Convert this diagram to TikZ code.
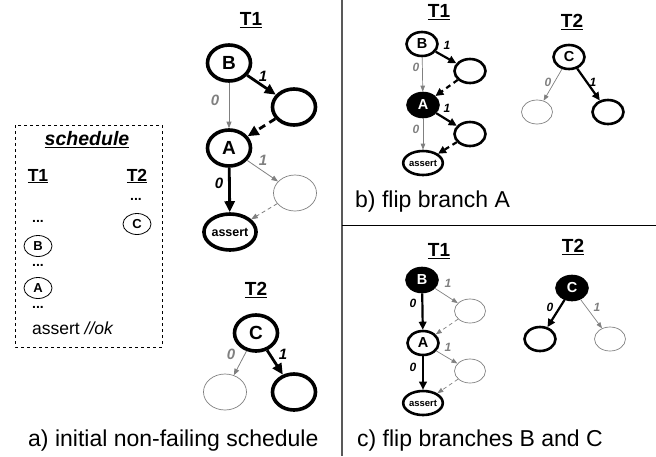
\documentclass[tikz,border=0pt]{standalone}
\usepackage{fontspec}
\setmainfont{Liberation Sans}
\usetikzlibrary{shapes.geometric,arrows.meta}
\definecolor{eg}{HTML}{808080}
\begin{document}
\begin{tikzpicture}[x=1pt,y=-1pt,
  nA/.style={ellipse,draw,line width=3.6pt,minimum width=43pt,minimum height=36pt,inner sep=0pt,font=\fontsize{19}{19}\selectfont\bfseries},
  nAg/.style={nA,line width=0.7pt,draw=eg},
  nAs/.style={nA,font=\fontsize{12.5}{12.5}\selectfont\bfseries},
  nB/.style={ellipse,draw,line width=2.6pt,minimum width=31pt,minimum height=24pt,inner sep=0pt,font=\fontsize{14.5}{14.5}\selectfont\bfseries},
  nBg/.style={nB,line width=0.7pt,draw=eg},
  nBs/.style={nB,font=\fontsize{9.5}{9.5}\selectfont\bfseries},
  nBf/.style={nB,fill=black,text=white},
  sm/.style={ellipse,draw,line width=0.8pt,minimum width=28pt,minimum height=21pt,inner sep=0pt,font=\fontsize{13}{13}\selectfont\bfseries},
  eA/.style={line width=2.8pt,-{Triangle[length=11pt,width=10pt]}},
  dA/.style={eA,dash pattern=on 7pt off 5pt},
  gA/.style={draw=eg,line width=0.8pt,-{Triangle[length=6.5pt,width=5pt]}},
  dgA/.style={gA,dash pattern=on 4pt off 3pt},
  eB/.style={line width=2.2pt,-{Triangle[length=8pt,width=7.5pt]}},
  dB/.style={eB,dash pattern=on 5pt off 4pt},
  gB/.style={draw=eg,line width=0.7pt,-{Triangle[length=6pt,width=4.5pt]}},
  dgB/.style={gB,dash pattern=on 4pt off 3pt},
  hd/.style={font=\fontsize{19}{19}\selectfont\bfseries},
  lbA/.style={font=\fontsize{15}{15}\selectfont\bfseries\itshape},
  lbAg/.style={lbA,text=eg},
  lbB/.style={font=\fontsize{12}{12}\selectfont\bfseries\itshape},
  lbBg/.style={lbB,text=eg},
  captxt/.style={anchor=base west,inner sep=0pt,font=\fontsize{23}{23}\selectfont},
  dotstxt/.style={font=\fontsize{14}{14}\selectfont\bfseries}
]
\useasboundingbox (0,0) rectangle (656,456);

% dividers
\draw[line width=1.3pt,draw=gray!70!black] (342,0) -- (342,456);
\draw[line width=1pt] (342,225) -- (656,225);

% ---------- panel a : schedule box
\draw[dashed,line width=0.8pt] (15,125) rectangle (162,347);
\node[font=\fontsize{19.5}{19.5}\selectfont\bfseries\itshape] (sch) at (87,140) {\underline{schedule}};
\node[font=\fontsize{17.5}{17.5}\selectfont\bfseries] (s1) at (38,176) {\underline{T1}};
\node[font=\fontsize{17.5}{17.5}\selectfont\bfseries] (s2) at (137,176) {\underline{T2}};
\node[dotstxt] (d0) at (136,199) {...};
\node[sm] (sC) at (137,224) {C};
\node[dotstxt] (d1) at (38,221) {...};
\node[sm] (sB) at (38,246) {B};
\node[dotstxt] (d2) at (38,265) {...};
\node[sm] (sA) at (38,288) {A};
\node[dotstxt] (d3) at (38,307) {...};
\node[anchor=west,inner sep=0pt,font=\fontsize{17.5}{17.5}\selectfont] (sas) at (32,328) {assert \textit{//ok}};

% ---------- panel a : T1
\node[hd] (aT1) at (251,20) {\underline{T1}};
\node[nA] (aB) at (229,63) {B};
\node[nA] (aR1) at (294,107) {};
\node[nA] (aA) at (229,148) {A};
\node[nAg] (aR2) at (295,193) {};
\node[nAs] (aS) at (230,232) {assert};
\draw[gA] (aB) -- (aA);
\draw[eA] (aB) -- (aR1);
\draw[dA] (aR1) -- (aA);
\draw[eA] (aA) -- (aS);
\draw[gA] (aA) -- (aR2);
\draw[dgA] (aR2) -- (aS);
\node[lbAg] (al1) at (215,100) {0};
\node[lbA] (al2) at (263,76) {1};
\node[lbA] (al3) at (219,183) {0};
\node[lbAg] (al4) at (263,160) {1};

% ---------- panel a : T2
\node[hd] (aT2) at (256,290) {\underline{T2}};
\node[nA] (aC) at (256,333) {C};
\node[nAg] (aL) at (225,392) {};
\node[nA] (aR) at (294,392) {};
\draw[gA] (aC) -- (aL);
\draw[eA] (aC) -- (aR);
\node[lbAg] (al5) at (231,354) {0};
\node[lbA] (al6) at (283,354) {1};

\node[captxt] (capa) at (28,446) {a) initial non-failing schedule};

% ---------- panel b : T1
\node[hd] (bT1) at (439,12) {\underline{T1}};
\node[nB] (bB) at (422,44) {B};
\node[nB] (bR1) at (470,71) {};
\node[nBf] (bA) at (423,105) {A};
\node[nB] (bR2) at (470,134) {};
\node[nBs] (bS) at (423,163) {assert};
\draw[gB] (bB) -- (bA);
\draw[eB] (bB) -- (bR1);
\draw[dB] (bR1) -- (bA);
\draw[gB] (bA) -- (bS);
\draw[eB] (bA) -- (bR2);
\draw[dB] (bR2) -- (bS);
\node[lbBg] (bl1) at (416,67) {0};
\node[lbB] (bl2) at (447,45) {1};
\node[lbBg] (bl3) at (416,129) {0};
\node[lbB] (bl4) at (447,108) {1};

% ---------- panel b : T2
\node[hd] (bT2) at (572,22) {\underline{T2}};
\node[nB] (bC) at (569,57) {C};
\node[nBg] (bL) at (537,112) {};
\node[nB] (bR) at (608,112) {};
\draw[gB] (bC) -- (bL);
\draw[eB] (bC) -- (bR);
\node[lbBg] (bl5) at (548,82) {0};
\node[lbB] (bl6) at (593,82) {1};

\node[captxt] (capb) at (355,207) {b) flip branch A};

% ---------- panel c : T1
\node[hd] (cT1) at (439,251) {\underline{T1}};
\node[nBf] (cB) at (422,280) {B};
\node[nBg] (cR1) at (470,311) {};
\node[nB] (cA) at (423,343) {A};
\node[nBg] (cR2) at (470,371) {};
\node[nBs] (cS) at (423,403) {assert};
\draw[eB] (cB) -- (cA);
\draw[gB] (cB) -- (cR1);
\draw[dgB] (cR1) -- (cA);
\draw[eB] (cA) -- (cS);
\draw[gB] (cA) -- (cR2);
\draw[dgB] (cR2) -- (cS);
\node[lbBg] (cl1) at (448,283) {1};
\node[lbB] (cl2) at (413,303) {0};
\node[lbBg] (cl3) at (448,347) {1};
\node[lbB] (cl4) at (413,367) {0};

% ---------- panel c : T2
\node[hd] (cT2) at (573,247) {\underline{T2}};
\node[nBf] (cC) at (572,288) {C};
\node[nB] (cL) at (540,339) {};
\node[nBg] (cR) at (610,339) {};
\draw[eB] (cC) -- (cL);
\draw[gB] (cC) -- (cR);
\node[lbB] (cl5) at (550,307) {0};
\node[lbBg] (cl6) at (597,307) {1};

\node[captxt] (capc) at (357,446) {c) flip branches B and C};
\end{tikzpicture}
\end{document}
